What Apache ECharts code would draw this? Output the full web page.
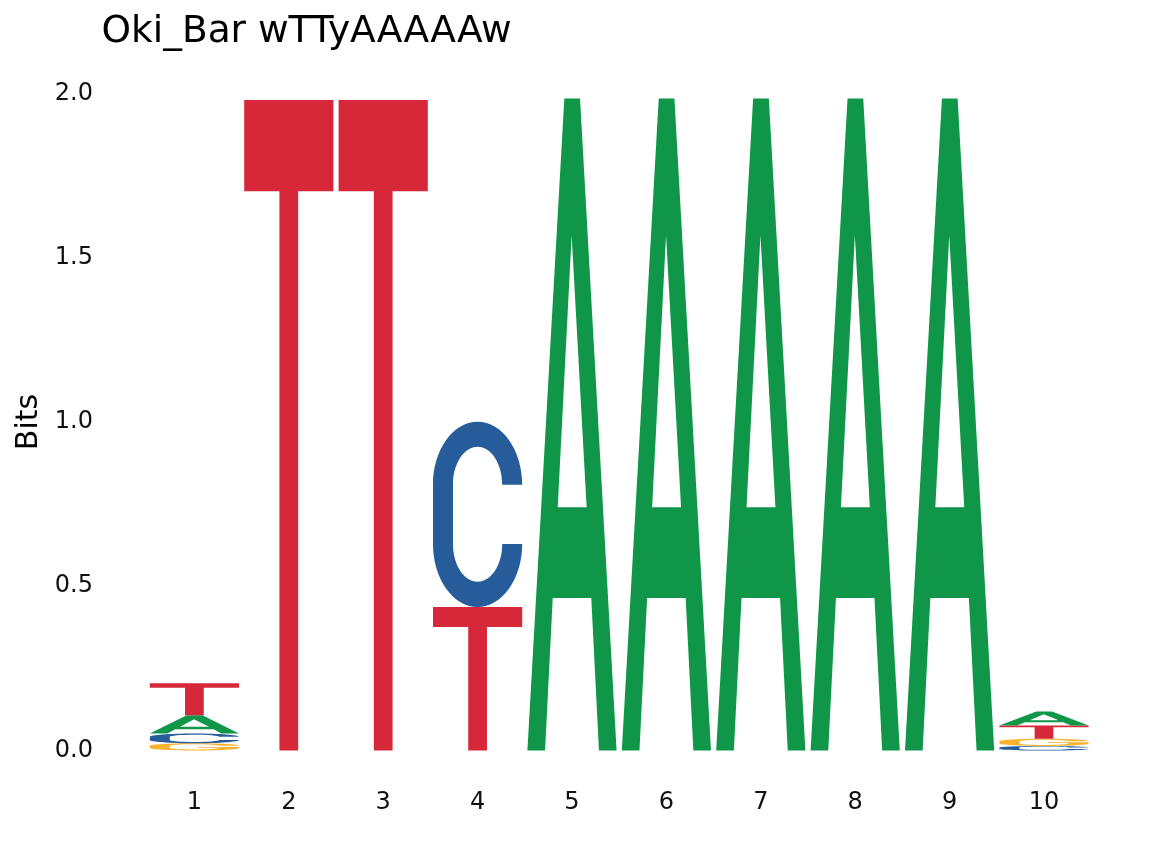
<!DOCTYPE html>
<html lang="en">
<head>
    <meta charset="utf-8">
    <title>Oki_Bar wTTyAAAAAw</title>
    <script src="https://cdn.jsdelivr.net/npm/echarts@6/dist/echarts.min.js"></script>
    <style>
        html, body { margin: 0; padding: 0; background: #fff; }
        #logo { width: 1152px; height: 865px; }
    </style>
</head>
<body>
    <div id="logo"></div>
<script>
    // information content (bits) per position
    const positions = [1, 2, 3, 4, 5, 6, 7, 8, 9, 10];
    const bitsA = [0.055, 0, 0, 0, 1.985, 1.985, 1.985, 1.985, 1.985, 0.043];
    const bitsC = [0.030, 0, 0, 0.564, 0, 0, 0, 0, 0, 0.014];
    const bitsG = [0.022, 0, 0, 0, 0, 0, 0, 0, 0, 0.022];
    const bitsT = [0.098, 1.98, 1.98, 0.437, 0, 0, 0, 0, 0, 0.040];
    const yTicks = [0, 0.5, 1, 1.5, 2];

    const letters = ['A', 'C', 'G', 'T'];
    const letterColors = ['#109648', '#255C99', '#F7B32B', '#D62839'];
    const letterWidth = 0.945;

    // glyph outlines in a 100x100 box, stretched to fill each letter cell
    const glyphs = {
        A: 'M0,100 L41.4,0 L59,0 L100,100 L80.2,100 L71.6,76.6 L28.4,76.6 L19.8,100 Z ' +
           'M34,62.7 L66.4,62.7 L49.6,21 Z',
        C: 'M100,34 C100,15.2 77.6,0 50,0 C22.4,0 0,15.2 0,34 L0,66 ' +
           'C0,84.8 22.4,100 50,100 C77.6,100 100,84.8 100,66 L77.6,66 ' +
           'C77.6,77.3 65.2,86.4 50,86.4 C34.8,86.4 22.4,77.3 22.4,66 L22.4,34 ' +
           'C22.4,22.7 34.8,13.6 50,13.6 C65.2,13.6 77.6,22.7 77.6,34 Z',
        G: 'M100,34 C100,15.2 77.6,0 50,0 C22.4,0 0,15.2 0,34 L0,66 ' +
           'C0,84.8 22.4,100 50,100 C77.6,100 100,84.8 100,66 L100,50 L54,50 L54,61 L77.6,61 L77.6,66 ' +
           'C77.6,77.3 65.2,86.4 50,86.4 C34.8,86.4 22.4,77.3 22.4,66 L22.4,34 ' +
           'C22.4,22.7 34.8,13.6 50,13.6 C65.2,13.6 77.6,22.7 77.6,34 Z',
        T: 'M0,0 L100,0 L100,14 L60.5,14 L60.5,100 L39.5,100 L39.5,14 L0,14 Z'
    };

    // stack letters: smallest at bottom, tallest on top
    const cells = [];
    positions.forEach(function (pos, i) {
        let col = [bitsA[i], bitsC[i], bitsG[i], bitsT[i]];
        let order = [0, 1, 2, 3].filter(function (k) { return col[k] > 0; });
        order.sort(function (a, b) { return col[a] - col[b]; });
        let base = 0;
        order.forEach(function (k) {
            cells.push([pos, base, base + col[k], k]);
            base += col[k];
        });
    });

    function renderLetter(params, api) {
        let x = api.value(0);
        let k = api.value(3);
        let tl = api.coord([x - letterWidth / 2, api.value(2)]);
        let br = api.coord([x + letterWidth / 2, api.value(1)]);
        return {
            type: 'path',
            shape: {
                pathData: glyphs[letters[k]],
                x: tl[0],
                y: tl[1],
                width: br[0] - tl[0],
                height: br[1] - tl[1],
                layout: 'cover'
            },
            style: { fill: letterColors[k] }
        };
    }

    let myChart = echarts.init(document.getElementById('logo'));
    let option = {
        animation: false,
        backgroundColor: '#fff',
        textStyle: { fontFamily: 'DejaVu Sans' },
        title: {
            text: 'Oki_Bar wTTyAAAAAw',
            left: 96.5,
            top: 8,
            textStyle: { fontSize: 37.5, fontWeight: 'normal', color: '#000', fontFamily: 'DejaVu Sans' }
        },
        grid: {
            left: 100, right: 13.6, top: 93.5, bottom: 114.5,
            containLabel: false,
            outerBoundsMode: 'none'
        },
        xAxis: {
            type: 'value',
            min: 0,
            max: 11,
            interval: 1,
            axisLine: { show: false },
            axisTick: { show: false },
            splitLine: { show: false },
            axisLabel: {
                margin: 40,
                fontSize: 24,
                color: '#111',
                formatter: function (v) {
                    return positions.indexOf(v) >= 0 ? String(v) : '';
                }
            }
        },
        yAxis: {
            type: 'value',
            min: yTicks[0],
            max: yTicks[yTicks.length - 1],
            interval: 0.5,
            name: 'Bits',
            nameLocation: 'middle',
            nameGap: 56,
            nameTextStyle: { fontSize: 30, color: '#000' },
            axisLine: { show: false },
            axisTick: { show: false },
            splitLine: { show: false },
            axisLabel: {
                margin: 7,
                fontSize: 24,
                color: '#111',
                padding: [4, 0, 0, 0],
                formatter: function (v) { return v.toFixed(1); }
            }
        },
        series: [{
            type: 'custom',
            renderItem: renderLetter,
            data: cells,
            silent: true
        }]
    };
    myChart.setOption(option);
</script>
</body>
</html>
